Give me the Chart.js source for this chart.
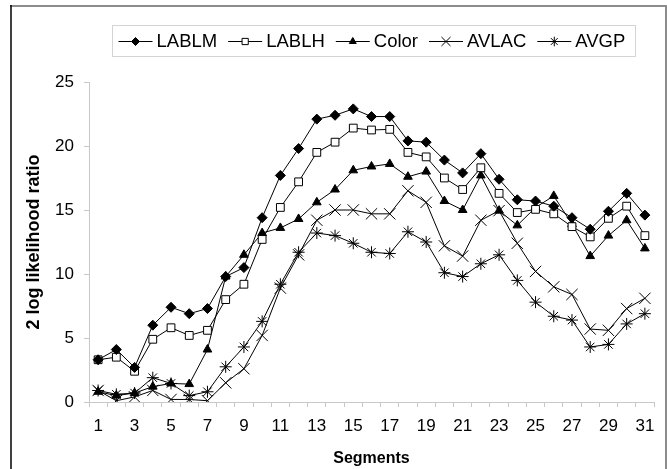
<!DOCTYPE html>
<html>
<head>
<meta charset="utf-8">
<script src="https://cdn.jsdelivr.net/npm/chart.js@4/dist/chart.umd.min.js"></script>
<style>
  html, body { margin: 0; padding: 0; background: #fff; }
  #wrap { width: 667px; height: 469px; position: relative; }
</style>
</head>
<body>
<div id="wrap"><canvas id="c" width="667" height="469"></canvas></div>
<script>
// ---- data ----
const segments = ['1','2','3','4','5','6','7','8','9','10','11','12','13','14','15','16',
                  '17','18','19','20','21','22','23','24','25','26','27','28','29','30','31'];
const seriesNames = ['LABLM', 'LABLH', 'Color', 'AVLAC', 'AVGP'];
const LABLM = [3.3, 4.1, 2.7, 6.0, 7.4, 6.9, 7.3, 9.8, 10.5, 14.4, 17.7, 19.8, 22.1, 22.4, 22.9, 22.3,
               22.3, 20.4, 20.3, 18.9, 17.9, 19.4, 17.4, 15.8, 15.7, 15.3, 14.4, 13.5, 14.9, 16.3, 14.6];
const LABLH = [3.3, 3.5, 2.4, 4.9, 5.8, 5.2, 5.6, 8.0, 9.2, 12.7, 15.2, 17.2, 19.5, 20.3, 21.4, 21.25,
               21.3, 19.5, 19.15, 17.5, 16.6, 18.3, 16.3, 14.8, 15.05, 14.7, 13.7, 12.9, 14.35, 15.3, 13.0];
const Color = [0.8, 0.5, 0.7, 1.2, 1.45, 1.4, 4.1, 9.8, 11.5, 13.2, 13.6, 14.3, 15.6, 16.6, 18.1, 18.4,
               18.6, 17.6, 18.0, 15.7, 15.0, 17.7, 14.95, 13.8, 15.2, 16.1, 13.9, 11.4, 13.0, 14.2, 12.0];
const AVLAC = [0.9, 0.1, 0.4, 0.9, 0.2, 0.2, 0.1, 1.5, 2.6, 5.2, 8.9, 11.5, 14.2, 15.0, 15.0, 14.7,
               14.7, 16.5, 15.6, 12.2, 11.4, 14.2, 14.95, 12.4, 10.2, 9.0, 8.4, 5.7, 5.6, 7.3, 8.1];
const AVGP  = [0.9, 0.6, 0.7, 1.9, 1.45, 0.5, 0.8, 2.75, 4.3, 6.3, 9.2, 11.7, 13.2, 13.0, 12.4, 11.7,
               11.6, 13.3, 12.5, 10.1, 9.8, 10.8, 11.5, 9.5, 7.8, 6.7, 6.4, 4.3, 4.5, 6.1, 6.9];
const yTicks = { min: 0, max: 25, step: 5 };
const xTitle = 'Segments';
const yTitle = '2 log likelihood ratio';

const FONT = '"Liberation Sans", Arial, Helvetica, sans-serif';

function series(label, data, style, radius, fill) {
  return {
    label, data,
    borderColor: '#000', borderWidth: 1, tension: 0, fill: false,
    pointStyle: style, pointRadius: radius, pointHoverRadius: radius,
    pointBackgroundColor: fill, pointBorderColor: '#000', pointBorderWidth: 1
  };
}

const frame = {
  id: 'frame',
  beforeDraw(chart) {
    const { ctx, width, height } = chart;
    ctx.save();
    ctx.fillStyle = '#fff';
    ctx.fillRect(0, 0, width, height);
    ctx.strokeStyle = '#8c8c8c';
    ctx.lineWidth = 2;
    ctx.beginPath();
    ctx.moveTo(10, 6); ctx.lineTo(667, 6);
    ctx.moveTo(666, 6); ctx.lineTo(666, height);
    ctx.stroke();
    ctx.strokeStyle = '#000';
    ctx.lineWidth = 1.5;
    ctx.beginPath();
    ctx.moveTo(11, 5); ctx.lineTo(11, height);
    ctx.stroke();
    ctx.restore();
  }
};

const boxLegend = {
  id: 'boxLegend',
  afterDraw(chart) {
    const { ctx, chartArea } = chart;
    ctx.save();
    ctx.font = '18.5px ' + FONT;
    const lineLen = 34, textGap = 4, itemGap = 11, padL = 6, padR = 10;
    const items = chart.data.datasets.map(ds => ({ ds, tw: ctx.measureText(ds.label).width }));
    const total = items.reduce((a, it) => a + lineLen + textGap + it.tw, 0) + itemGap * (items.length - 1);
    const boxW = Math.round(total + padL + padR);
    const cx = (chartArea.left + chartArea.right) / 2 + 2;
    const boxL = Math.round(cx - boxW / 2) + 0.5;
    const boxT = 25.5, boxH = 31;
    ctx.strokeStyle = '#d4d4d4';
    ctx.lineWidth = 1;
    ctx.strokeRect(boxL, boxT, boxW, boxH);
    let x = boxL + padL;
    const y = Math.round(boxT + boxH / 2) + 0.5;
    items.forEach(it => {
      const ds = it.ds;
      ctx.strokeStyle = '#000';
      ctx.lineWidth = 1;
      ctx.beginPath();
      ctx.moveTo(x, y); ctx.lineTo(x + lineLen, y);
      ctx.stroke();
      ctx.fillStyle = ds.pointBackgroundColor;
      ctx.strokeStyle = '#000';
      Chart.helpers.drawPoint(ctx, {
        pointStyle: ds.pointStyle, radius: ds.pointRadius * 0.8, rotation: 0, borderWidth: 1
      }, x + lineLen / 2, y);
      ctx.fillStyle = '#000';
      ctx.textBaseline = 'middle';
      ctx.textAlign = 'left';
      ctx.fillText(ds.label, x + lineLen + textGap, y + 0.5);
      x += lineLen + textGap + it.tw + itemGap;
    });
    ctx.restore();
  }
};

new Chart(document.getElementById('c'), {
  type: 'line',
  data: {
    labels: segments,
    datasets: [
      series(seriesNames[0], LABLM, 'rectRot', 5, '#000'),
      series(seriesNames[1], LABLH, 'rect', 5.5, '#fff'),
      series(seriesNames[2], Color, 'triangle', 5, '#000'),
      series(seriesNames[3], AVLAC, 'crossRot', 8, '#000'),
      series(seriesNames[4], AVGP, 'star', 6, '#000')
    ]
  },
  options: {
    responsive: false,
    animation: false,
    events: [],
    layout: { padding: { left: 0, right: 13, top: 82, bottom: 0 } },
    plugins: { legend: { display: false }, tooltip: { enabled: false } },
    scales: {
      x: {
        type: 'category',
        offset: true,
        grid: { display: true, drawOnChartArea: false, drawTicks: true, tickLength: 5,
                color: '#c8c8c8', offset: true },
        border: { display: true, color: '#c8c8c8' },
        ticks: {
          autoSkip: false, maxRotation: 0, minRotation: 0, padding: 9, color: '#000',
          font: { family: FONT, size: 17 },
          callback: function (v, i) { return i % 2 === 0 ? this.getLabelForValue(v) : ''; }
        },
        title: { display: true, text: xTitle, color: '#000',
                 font: { family: FONT, size: 16, weight: 'bold' }, padding: { top: 0, bottom: 1 } },
        afterFit(s) { s.height = 67; }
      },
      y: {
        min: yTicks.min, max: yTicks.max,
        grid: { display: true, drawOnChartArea: false, drawTicks: true, tickLength: 5, color: '#c8c8c8' },
        border: { display: true, color: '#c8c8c8' },
        ticks: { stepSize: yTicks.step, padding: 10, color: '#000', font: { family: FONT, size: 17 } },
        title: { display: true, text: yTitle, color: '#000',
                 font: { family: FONT, size: 18, weight: 'bold' }, padding: { top: 23, bottom: 0 } },
        afterFit(s) { s.width = 89; }
      }
    }
  },
  plugins: [frame, boxLegend]
});
</script>
</body>
</html>
